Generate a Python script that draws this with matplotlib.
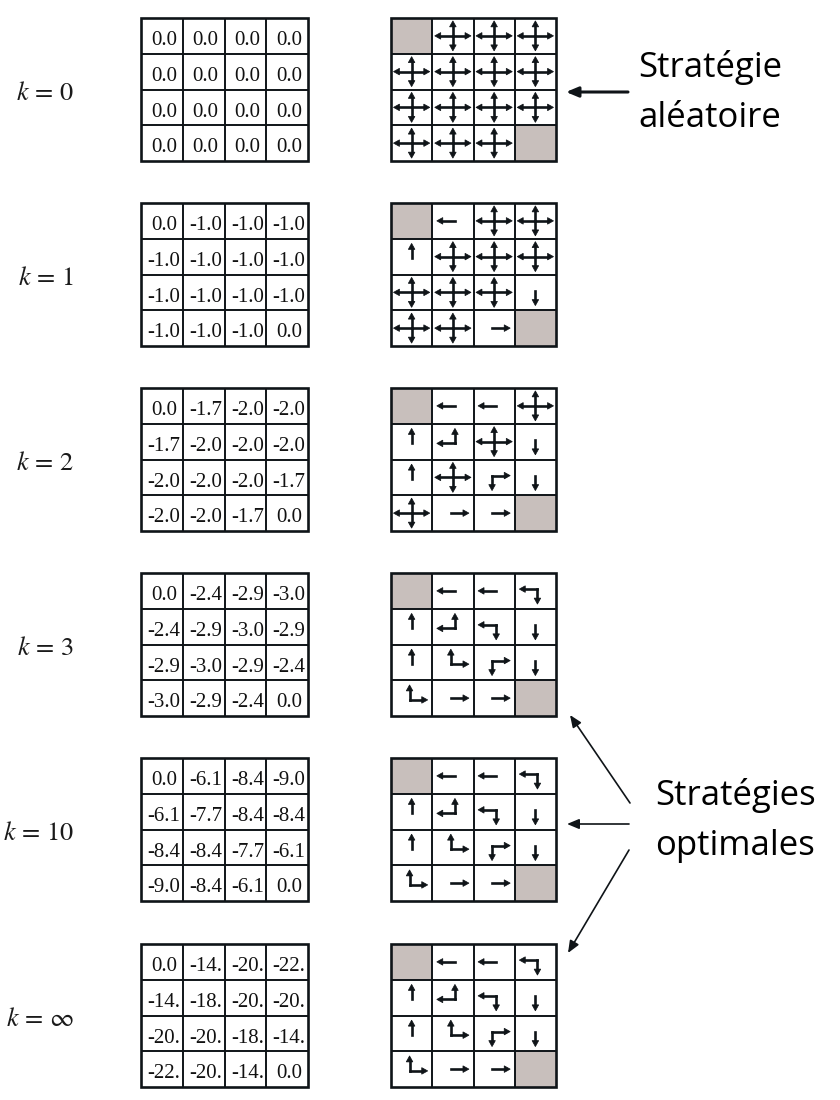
import matplotlib
matplotlib.use("Agg")
import matplotlib.pyplot as plt
from matplotlib.patches import Rectangle, Polygon, FancyArrowPatch

plt.rcParams['mathtext.fontset'] = 'stix'

# ---------------- data ----------------
k_labels = [r"$k\,=\,0$", r"$k\,=\,1$", r"$k\,=\,2$", r"$k\,=\,3$", r"$k\,=\,10$", r"$k\,=\,\infty$"]

values_k0 = [[0.0, 0.0, 0.0, 0.0],
             [0.0, 0.0, 0.0, 0.0],
             [0.0, 0.0, 0.0, 0.0],
             [0.0, 0.0, 0.0, 0.0]]
values_k1 = [[0.0, -1.0, -1.0, -1.0],
             [-1.0, -1.0, -1.0, -1.0],
             [-1.0, -1.0, -1.0, -1.0],
             [-1.0, -1.0, -1.0, 0.0]]
values_k2 = [[0.0, -1.7, -2.0, -2.0],
             [-1.7, -2.0, -2.0, -2.0],
             [-2.0, -2.0, -2.0, -1.7],
             [-2.0, -2.0, -1.7, 0.0]]
values_k3 = [[0.0, -2.4, -2.9, -3.0],
             [-2.4, -2.9, -3.0, -2.9],
             [-2.9, -3.0, -2.9, -2.4],
             [-3.0, -2.9, -2.4, 0.0]]
values_k10 = [[0.0, -6.1, -8.4, -9.0],
              [-6.1, -7.7, -8.4, -8.4],
              [-8.4, -8.4, -7.7, -6.1],
              [-9.0, -8.4, -6.1, 0.0]]
values_kinf = [[0.0, -14.0, -20.0, -22.0],
               [-14.0, -18.0, -20.0, -20.0],
               [-20.0, -20.0, -18.0, -14.0],
               [-22.0, -20.0, -14.0, 0.0]]

# policies: T = terminal, letters u/d/l/r = greedy actions
policy_k0 = [["T", "udlr", "udlr", "udlr"],
             ["udlr", "udlr", "udlr", "udlr"],
             ["udlr", "udlr", "udlr", "udlr"],
             ["udlr", "udlr", "udlr", "T"]]
policy_k1 = [["T", "l", "udlr", "udlr"],
             ["u", "udlr", "udlr", "udlr"],
             ["udlr", "udlr", "udlr", "d"],
             ["udlr", "udlr", "r", "T"]]
policy_k2 = [["T", "l", "l", "udlr"],
             ["u", "ul", "udlr", "d"],
             ["u", "udlr", "dr", "d"],
             ["udlr", "r", "r", "T"]]
policy_opt = [["T", "l", "l", "dl"],
              ["u", "ul", "dl", "d"],
              ["u", "ur", "dr", "d"],
              ["ur", "r", "r", "T"]]

all_values = [values_k0, values_k1, values_k2, values_k3, values_k10, values_kinf]
all_policies = [policy_k0, policy_k1, policy_k2, policy_opt, policy_opt, policy_opt]

# ---------------- layout ----------------
W, H = 840, 1100
fig = plt.figure(figsize=(W / 100, H / 100), dpi=100)
ax = fig.add_axes([0, 0, 1, 1])
ax.set_xlim(0, W)
ax.set_ylim(H, 0)
ax.axis('off')

INK = '#0f1418'
GRAY = '#c8bfbc'
tops = [18, 203, 388, 573, 758, 944]
gh = 143
vx0, vw = 141, 167
px0, pw = 391, 165


def grid_lines(x0, y0, w, h):
    for i in range(1, 4):
        ax.plot([x0 + w * i / 4] * 2, [y0, y0 + h], color=INK, lw=1.4,
                solid_capstyle='butt', zorder=3)
        ax.plot([x0, x0 + w], [y0 + h * i / 4] * 2, color=INK, lw=1.4,
                solid_capstyle='butt', zorder=3)
    ax.add_patch(Rectangle((x0, y0), w, h, fill=False, ec=INK, lw=1.9,
                           joinstyle='miter', zorder=4))


def fmt(v):
    return f"{v:.1f}"[:4]


DIRS = {'u': (0, -1), 'd': (0, 1), 'l': (-1, 0), 'r': (1, 0)}
HEAD_L, HEAD_HW = 6.0, 3.3


def arm(ox, oy, dx, dy, length):
    tx, ty = ox + dx * length, oy + dy * length
    bx, by = tx - dx * HEAD_L, ty - dy * HEAD_L
    ax.plot([ox, bx + dx * 0.5], [oy, by + dy * 0.5], color=INK, lw=1.9,
            solid_capstyle='projecting', zorder=5)
    px, py = -dy, dx
    ax.add_patch(Polygon([(tx, ty), (bx + px * HEAD_HW, by + py * HEAD_HW),
                          (bx - px * HEAD_HW, by - py * HEAD_HW)],
                         closed=True, fc=INK, ec=INK, lw=0.5, zorder=5))


def draw_policy_cell(acts, x0, y0, cw, ch):
    cx, cy = x0 + cw / 2, y0 + ch / 2
    sx = sum(DIRS[a][0] for a in acts)
    sy = sum(DIRS[a][1] for a in acts)
    ox = cx - 0.05 * sx * cw
    oy = cy - 0.05 * sy * ch
    for a in acts:
        dx, dy = DIRS[a]
        length = 0.44 * cw if dx else 0.42 * ch
        arm(ox, oy, dx, dy, length)


for g in range(6):
    y0 = tops[g]
    vals = all_values[g]
    pol = all_policies[g]
    cwv, chv = vw / 4, gh / 4
    cwp, chp = pw / 4, gh / 4
    for r in range(4):
        for c in range(4):
            ax.text(vx0 + (c + 0.5) * cwv + 2, y0 + (r + 0.76) * chv, fmt(vals[r][c]),
                    ha='center', va='baseline', fontsize=15,
                    family='Liberation Serif', color='#111111', zorder=6)
            px, py = px0 + c * cwp, y0 + r * chp
            if pol[r][c] == 'T':
                ax.add_patch(Rectangle((px, py), cwp, chp, fc=GRAY, ec='none', zorder=1))
            else:
                draw_policy_cell(pol[r][c], px, py, cwp, chp)
    grid_lines(vx0, y0, vw, gh)
    grid_lines(px0, y0, pw, gh)
    ax.text(74, y0 + 82, k_labels[g], ha='right', va='baseline', fontsize=19,
            color='#1a1a1a')


def big_arrow(p0, p1, lw, ms):
    ax.add_patch(FancyArrowPatch(p0, p1, arrowstyle='-|>,head_length=0.6,head_width=0.25',
                                 mutation_scale=ms, lw=lw, color=INK,
                                 shrinkA=0, shrinkB=0, zorder=5))


# annotations
ax.text(638, 77, "Stratégie", fontsize=25, family='Open Sans', va='baseline', ha='left')
ax.text(638, 127, "aléatoire", fontsize=25, family='Open Sans', va='baseline', ha='left')
ax.text(655, 805, "Stratégies", fontsize=25, family='Open Sans', va='baseline', ha='left')
ax.text(655, 855, "optimales", fontsize=25, family='Open Sans', va='baseline', ha='left')

big_arrow((628, 92), (566, 92), lw=2.2, ms=12)
for p0, p1 in [((630, 803), (570, 715)),
               ((629, 824), (567, 824)),
               ((629, 850), (568, 953))]:
    big_arrow(p0, p1, lw=1.2, ms=12)

fig.savefig("out.png", dpi=100, facecolor='white')
